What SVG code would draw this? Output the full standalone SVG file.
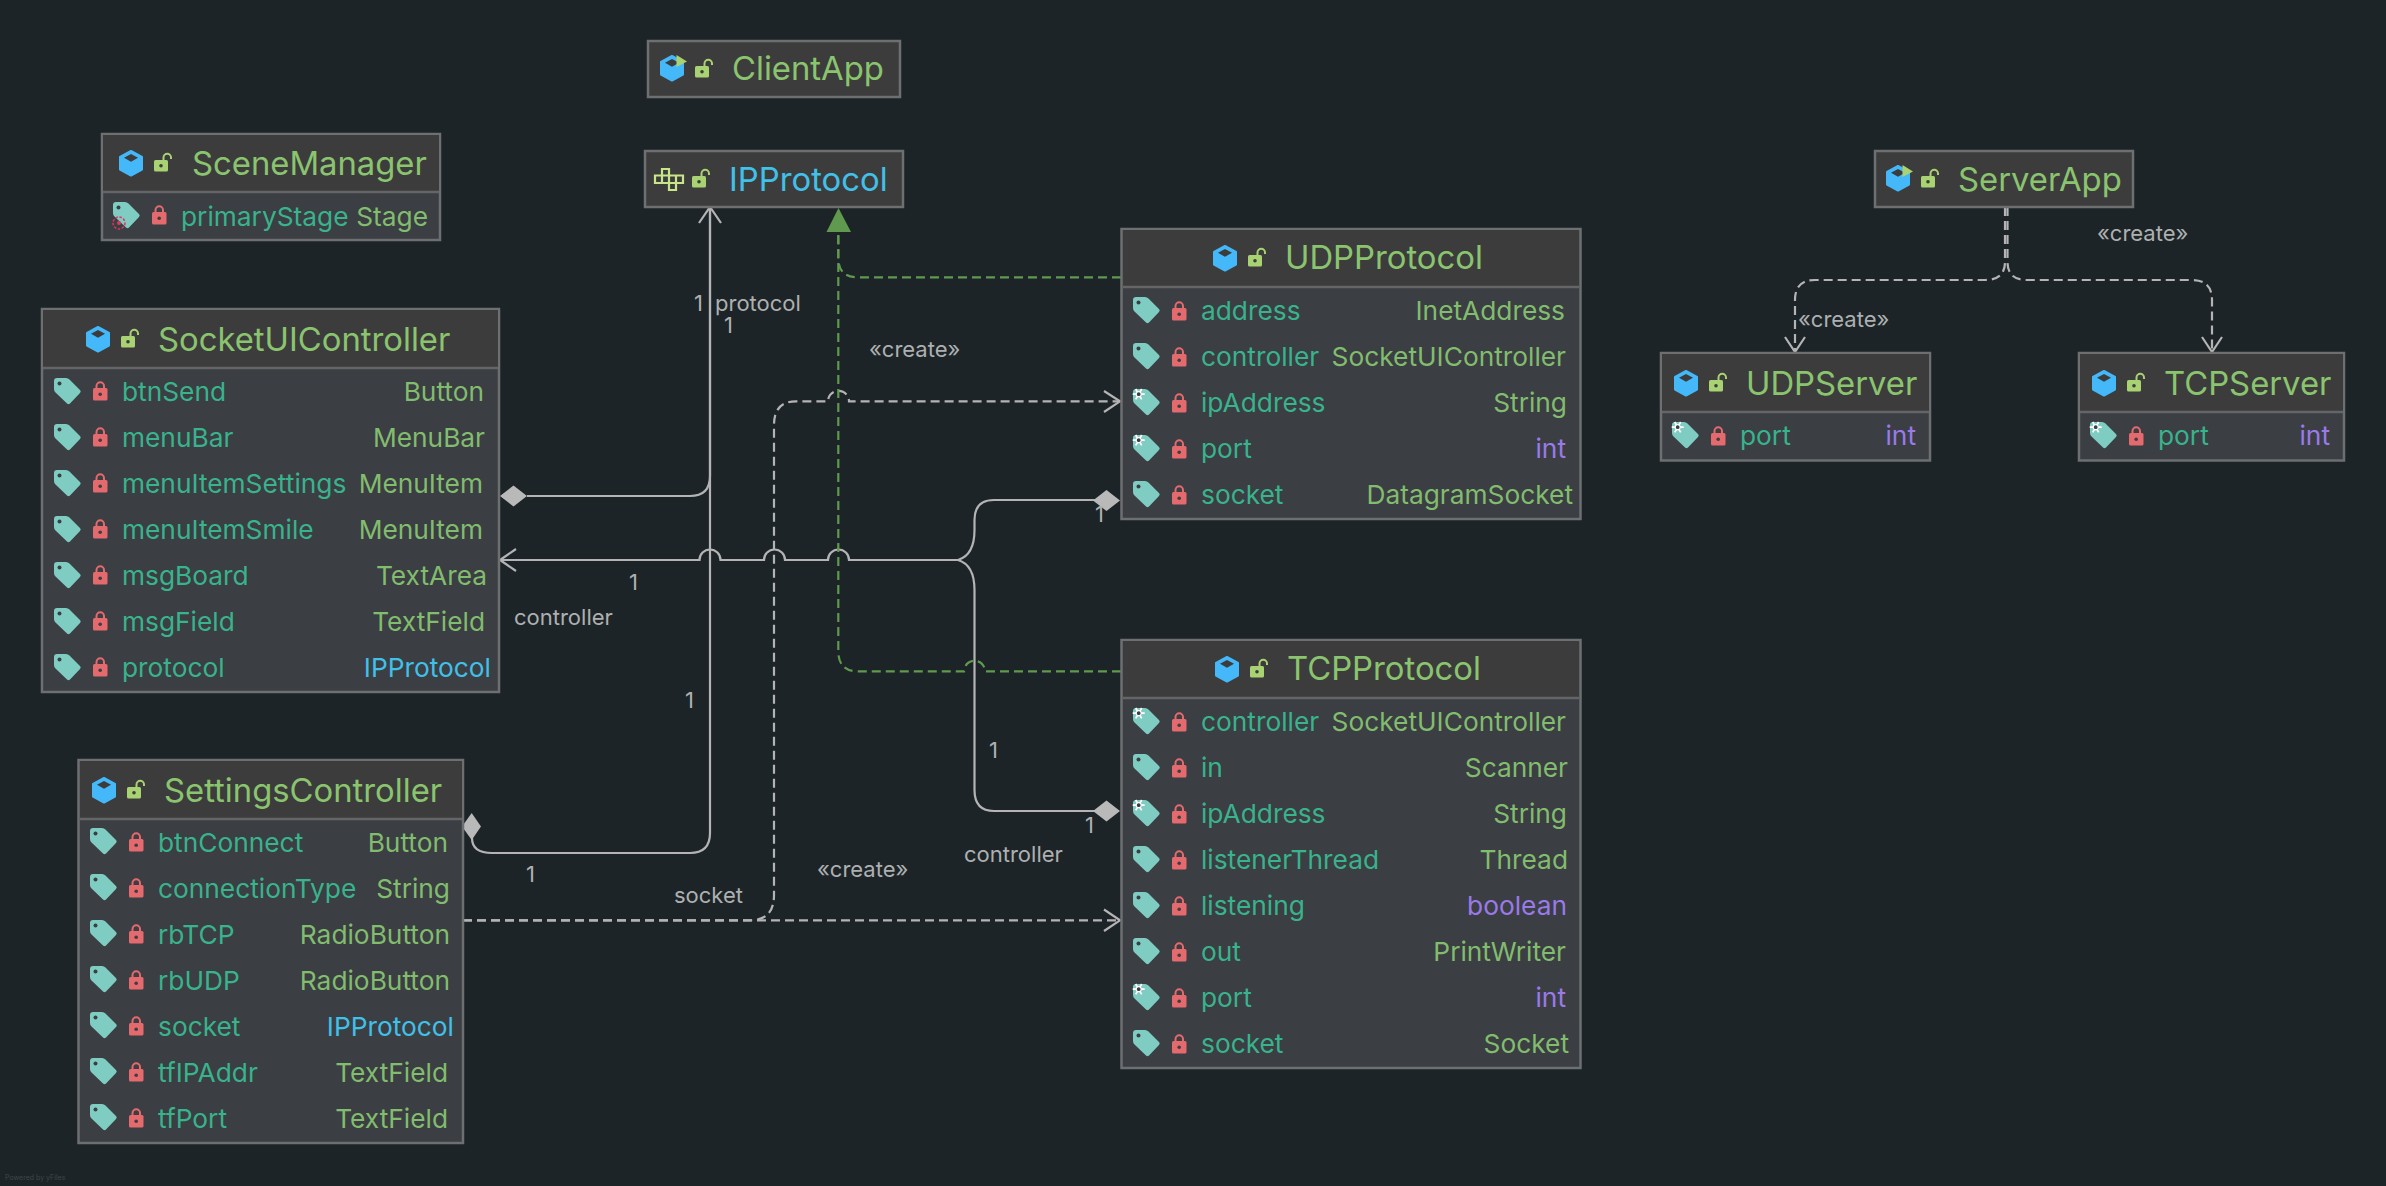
<svg xmlns="http://www.w3.org/2000/svg" width="2386" height="1186" viewBox="0 0 2386 1186">
<style>
text{font-family:Inter,"Noto Sans","Liberation Sans",sans-serif}
.box{fill:#3b3e42;stroke:#6d6f71;stroke-width:2.5}
.hdr{fill:#3d3c3c}
.sep{stroke:#646566;stroke-width:2.5}
.title{font-size:32.8px;fill:#8bc46f}
.blue{fill:#41c0e8}
.f{font-size:26.3px;fill:#39b38c}
.t{font-size:26.3px;fill:#82bc6e;text-anchor:end}
.b{fill:#41c0e8}
.p{fill:#9a7ae8}
.lab{font-size:22px;fill:#aeb0b0}
.c{fill:none;stroke:#b4b4b4;stroke-width:2.2}
.d{stroke-dasharray:9 5}
.g{stroke:#5f9a4e}
.ah{fill:none;stroke:#b4b4b4;stroke-width:2.2}
.dia{fill:#b9b9b9}
</style>
<defs>
<g id="tag"><path fill="#7fccc2" d="M3 0H12Q14 0 15.500 1.500L26 12Q27.500 13.500 26 15L16 25.500Q14.500 27 13 25.500L1.500 14.500Q0 13 0 11V3Q0 0 3 0Z"/><circle cx="5.500" cy="5.500" r="2" fill="#3b3e42"/></g>
<g id="stag"><use href="#tag"/><g transform="translate(5.700,5.200)" stroke="#fff" stroke-width="1.700" fill="none"><path d="M-6 0H6M-3 -5.200L3 5.200M-3 5.200L3 -5.200"/><circle r="2.500" fill="#3b3e42" stroke-width="1.200"/></g></g>
<g id="lock"><rect y="7" width="14.500" height="12.500" rx="1.500" fill="#e46a6e"/><path d="M3.500 8V5a3.700 3.700 0 0 1 7.500 0V8" fill="none" stroke="#e46a6e" stroke-width="2"/><circle cx="7.200" cy="13.200" r="1.800" fill="#3b3e42"/></g>
<g id="olock"><rect y="7" width="14" height="11.500" rx="1.500" fill="#a9d273"/><path d="M9.500 8V4.500a3.700 3.700 0 0 1 7.500 0V6" fill="none" stroke="#a9d273" stroke-width="2"/><circle cx="7" cy="12.800" r="1.800" fill="#3d3c3c"/></g>
<g id="cube"><path fill="#44b8f8" stroke="#44b8f8" stroke-width="2" stroke-linejoin="round" d="M12 1L23 7V19.500L12 25.500L1 19.500V7Z"/><path fill="#3d3c3c" d="M12 4L19 7.800L12 11.800L5 7.800Z"/></g>
<g id="acube"><use href="#cube"/><path fill="#a9d273" d="M16.500 0L27 6.500L16.500 12Z"/></g>
<g id="iface" fill="none" stroke="#c8e58a" stroke-width="2.200"><path d="M8 7.500V1H15V7.500M1 7.500H29V15H1ZM8 7.500V15M15 7.500V15M22 7.500V15M15 15V22H22V15"/></g>
</defs>
<rect width="2386" height="1186" fill="#1c2428"/>
<g id="connectors">
<path class="c" d="M527 496H690Q710 496 710 476V207"/>
<path class="ah" d="M699 223L710 207L721 223"/>
<path class="c" d="M472 838Q472 853 492 853H690Q710 853 710 833V207"/>
<path class="c" d="M958 560H849A10.500 10.500 0 0 0 828 560H785A10.500 10.500 0 0 0 764 560H720.500A10.500 10.500 0 0 0 699.500 560H500"/>
<path class="ah" d="M516 549L500 560L516 571"/>
<path class="c" d="M958 560Q974.500 555 974.500 530V520Q974.500 500 994 500H1095"/>
<path class="c" d="M958 560Q974.500 565 974.500 590V790Q974.500 811 994 811H1095"/>
<path class="dia" d="M1093 500.500L1106.500 490L1120 500.500L1106.500 511Z"/>
<path class="dia" d="M1093 811L1106.500 800.500L1120 811L1106.500 821.500Z"/>
<path class="dia" d="M500 496L513.500 485.500L527 496L513.500 506.500Z"/>
<path class="dia" d="M462 826.500L471.700 813L481 826.500L471.700 840Z"/>
<path class="c d" d="M463 920.300H750Q774 920.300 774 895V425Q774 401.300 796 401.300H828A10.500 10.500 0 0 1 849 401.300H1119"/>
<path class="ah" d="M1104 391L1120 401.300L1104 412"/>
<path class="c d" d="M463 920.300H1119"/>
<path class="ah" d="M1104 909.500L1120 920.300L1104 931"/>
<path class="c d g" d="M1121 277.300H858Q838.300 277.300 838.300 258V232"/>
<path class="c d g" d="M1121 671.300H985A10.500 10.500 0 0 0 964 671.300H858Q838.300 671.300 838.300 651V232"/>
<path fill="#5f9a4e" d="M838.500 208L851 232H826.500Z"/>
<path class="c d" d="M2005 207V262Q2005 280 1985 280H1815Q1795 280 1795 300V351"/>
<path class="c d" d="M2007.500 207V262Q2007.500 280 2027 280H2192Q2212 280 2212 300V351"/>
<path class="ah" d="M1785 337L1795 352L1805 337"/>
<path class="ah" d="M2202 337L2212 352L2222 337"/>
</g>
<g id="labels">
<text class="lab" x="694" y="311">1</text>
<text class="lab" x="715" y="311">protocol</text>
<text class="lab" x="724" y="333">1</text>
<text class="lab" x="869" y="357">«create»</text>
<text class="lab" x="629" y="590">1</text>
<text class="lab" x="514" y="625">controller</text>
<text class="lab" x="685" y="708">1</text>
<text class="lab" x="526" y="882">1</text>
<text class="lab" x="674" y="903">socket</text>
<text class="lab" x="817" y="877">«create»</text>
<text class="lab" x="964" y="862">controller</text>
<text class="lab" x="989" y="758">1</text>
<text class="lab" x="1085" y="833">1</text>
<text class="lab" x="1095" y="522">1</text>
<text class="lab" x="2097" y="241">«create»</text>
<text class="lab" x="1798" y="327">«create»</text>
<text x="5" y="1180" font-size="7" fill="#3d474b">Powered by yFiles</text>
</g>
<g id="ClientApp">
<rect class="box hdr" x="648" y="41" width="252" height="56"/>
<use href="#acube" x="660" y="55"/><use href="#olock" x="695" y="59"/>
<text class="title" x="732" y="80">ClientApp</text>
</g>
<g id="IPProtocol">
<rect class="box hdr" x="645" y="151" width="258" height="56"/>
<use href="#iface" x="654" y="168"/><use href="#olock" x="692" y="169"/>
<text class="title blue" x="729" y="191">IPProtocol</text>
</g>
<g id="SceneManager">
<rect class="box" x="102" y="134" width="338" height="106"/><rect class="hdr" x="103" y="135" width="336" height="57"/><path class="sep" d="M103 192H439"/>
<use href="#cube" x="119" y="150"/><use href="#olock" x="154" y="153"/>
<text class="title" x="192" y="175">SceneManager</text>
<use href="#tag" x="113" y="202"/><use href="#lock" x="152" y="205"/>
<circle cx="119" cy="223" r="6" fill="none" stroke="#e0365e" stroke-width="1.500" stroke-dasharray="2.500 1.500"/><circle cx="119" cy="223" r="2" fill="#e0365e"/>
<text class="f" x="181" y="226">primaryStage</text><text class="t" x="428" y="226">Stage</text>
</g>
<g id="SocketUIController">
<rect class="box" x="42" y="309" width="457" height="383"/><rect class="hdr" x="43" y="310" width="455" height="58"/><path class="sep" d="M43 368H498"/>
<use href="#cube" x="86" y="326"/><use href="#olock" x="121" y="329"/>
<text class="title" x="158" y="351">SocketUIController</text>
<use href="#tag" x="54" y="378"/><use href="#lock" x="93" y="381"/><text class="f" x="122" y="401">btnSend</text><text class="t" x="484" y="401">Button</text>
<use href="#tag" x="54" y="424"/><use href="#lock" x="93" y="427"/><text class="f" x="122" y="447">menuBar</text><text class="t" x="485" y="447">MenuBar</text>
<use href="#tag" x="54" y="470"/><use href="#lock" x="93" y="473"/><text class="f" x="122" y="493">menuItemSettings</text><text class="t" x="483" y="493">MenuItem</text>
<use href="#tag" x="54" y="516"/><use href="#lock" x="93" y="519"/><text class="f" x="122" y="539">menuItemSmile</text><text class="t" x="483" y="539">MenuItem</text>
<use href="#tag" x="54" y="562"/><use href="#lock" x="93" y="565"/><text class="f" x="122" y="585">msgBoard</text><text class="t" x="487" y="585">TextArea</text>
<use href="#tag" x="54" y="608"/><use href="#lock" x="93" y="611"/><text class="f" x="122" y="631">msgField</text><text class="t" x="485" y="631">TextField</text>
<use href="#tag" x="54" y="654"/><use href="#lock" x="93" y="657"/><text class="f" x="122" y="677">protocol</text><text class="t b" x="491" y="677">IPProtocol</text>
</g>
<g id="SettingsController">
<rect class="box" x="78.500" y="760" width="384.500" height="383"/><rect class="hdr" x="80" y="761" width="382" height="58"/><path class="sep" d="M80 819H462"/>
<use href="#cube" x="92" y="777"/><use href="#olock" x="127" y="780"/>
<text class="title" x="164" y="802">SettingsController</text>
<use href="#tag" x="90" y="828"/><use href="#lock" x="129" y="832"/><text class="f" x="158" y="852">btnConnect</text><text class="t" x="448" y="852">Button</text>
<use href="#tag" x="90" y="874"/><use href="#lock" x="129" y="878"/><text class="f" x="158" y="898">connectionType</text><text class="t" x="450" y="898">String</text>
<use href="#tag" x="90" y="920"/><use href="#lock" x="129" y="924"/><text class="f" x="158" y="944">rbTCP</text><text class="t" x="450" y="944">RadioButton</text>
<use href="#tag" x="90" y="966"/><use href="#lock" x="129" y="970"/><text class="f" x="158" y="990">rbUDP</text><text class="t" x="450" y="990">RadioButton</text>
<use href="#tag" x="90" y="1012"/><use href="#lock" x="129" y="1016"/><text class="f" x="158" y="1036">socket</text><text class="t b" x="454" y="1036">IPProtocol</text>
<use href="#tag" x="90" y="1058"/><use href="#lock" x="129" y="1062"/><text class="f" x="158" y="1082">tfIPAddr</text><text class="t" x="448" y="1082">TextField</text>
<use href="#tag" x="90" y="1104"/><use href="#lock" x="129" y="1108"/><text class="f" x="158" y="1128">tfPort</text><text class="t" x="448" y="1128">TextField</text>
</g>
<g id="UDPProtocol">
<rect class="box" x="1121.500" y="229" width="459" height="290"/><rect class="hdr" x="1123" y="230" width="456" height="57"/><path class="sep" d="M1123 287H1579"/>
<use href="#cube" x="1213" y="245"/><use href="#olock" x="1248" y="248"/>
<text class="title" x="1285" y="269">UDPProtocol</text>
<use href="#tag" x="1133" y="297"/><use href="#lock" x="1172" y="301"/><text class="f" x="1201" y="320">address</text><text class="t" x="1565" y="320">InetAddress</text>
<use href="#tag" x="1133" y="343"/><use href="#lock" x="1172" y="347"/><text class="f" x="1201" y="366">controller</text><text class="t" x="1566" y="366">SocketUIController</text>
<use href="#stag" x="1133" y="389"/><use href="#lock" x="1172" y="393"/><text class="f" x="1201" y="412">ipAddress</text><text class="t" x="1567" y="412">String</text>
<use href="#stag" x="1133" y="435"/><use href="#lock" x="1172" y="439"/><text class="f" x="1201" y="458">port</text><text class="t p" x="1566" y="458">int</text>
<use href="#tag" x="1133" y="481"/><use href="#lock" x="1172" y="485"/><text class="f" x="1201" y="504">socket</text><text class="t" x="1573" y="504">DatagramSocket</text>
</g>
<g id="TCPProtocol">
<rect class="box" x="1121.500" y="640" width="459" height="428"/><rect class="hdr" x="1123" y="641" width="456" height="57"/><path class="sep" d="M1123 698H1579"/>
<use href="#cube" x="1215" y="656"/><use href="#olock" x="1250" y="659"/>
<text class="title" x="1287" y="680">TCPProtocol</text>
<use href="#stag" x="1133" y="708"/><use href="#lock" x="1172" y="712"/><text class="f" x="1201" y="731">controller</text><text class="t" x="1566" y="731">SocketUIController</text>
<use href="#tag" x="1133" y="754"/><use href="#lock" x="1172" y="758"/><text class="f" x="1201" y="777">in</text><text class="t" x="1568" y="777">Scanner</text>
<use href="#stag" x="1133" y="800"/><use href="#lock" x="1172" y="804"/><text class="f" x="1201" y="823">ipAddress</text><text class="t" x="1567" y="823">String</text>
<use href="#tag" x="1133" y="846"/><use href="#lock" x="1172" y="850"/><text class="f" x="1201" y="869">listenerThread</text><text class="t" x="1568" y="869">Thread</text>
<use href="#tag" x="1133" y="892"/><use href="#lock" x="1172" y="896"/><text class="f" x="1201" y="915">listening</text><text class="t p" x="1567" y="915">boolean</text>
<use href="#tag" x="1133" y="938"/><use href="#lock" x="1172" y="942"/><text class="f" x="1201" y="961">out</text><text class="t" x="1566" y="961">PrintWriter</text>
<use href="#stag" x="1133" y="984"/><use href="#lock" x="1172" y="988"/><text class="f" x="1201" y="1007">port</text><text class="t p" x="1566" y="1007">int</text>
<use href="#tag" x="1133" y="1030"/><use href="#lock" x="1172" y="1034"/><text class="f" x="1201" y="1053">socket</text><text class="t" x="1569" y="1053">Socket</text>
</g>
<g id="ServerApp">
<rect class="box hdr" x="1875" y="151" width="258" height="56"/>
<use href="#acube" x="1886" y="165"/><use href="#olock" x="1921" y="169"/>
<text class="title" x="1958" y="191">ServerApp</text>
</g>
<g id="UDPServer">
<rect class="box" x="1661" y="353" width="269" height="107.500"/><rect class="hdr" x="1662" y="354" width="267" height="58"/><path class="sep" d="M1662 412H1929"/>
<use href="#cube" x="1674" y="370"/><use href="#olock" x="1709" y="373"/>
<text class="title" x="1746" y="395">UDPServer</text>
<use href="#stag" x="1672" y="422"/><use href="#lock" x="1711" y="426"/><text class="f" x="1740" y="445">port</text><text class="t p" x="1916" y="445">int</text>
</g>
<g id="TCPServer">
<rect class="box" x="2079" y="353" width="265" height="107.500"/><rect class="hdr" x="2080" y="354" width="263" height="58"/><path class="sep" d="M2080 412H2343"/>
<use href="#cube" x="2092" y="370"/><use href="#olock" x="2127" y="373"/>
<text class="title" x="2164" y="395">TCPServer</text>
<use href="#stag" x="2090" y="422"/><use href="#lock" x="2129" y="426"/><text class="f" x="2158" y="445">port</text><text class="t p" x="2330" y="445">int</text>
</g>
</svg>
